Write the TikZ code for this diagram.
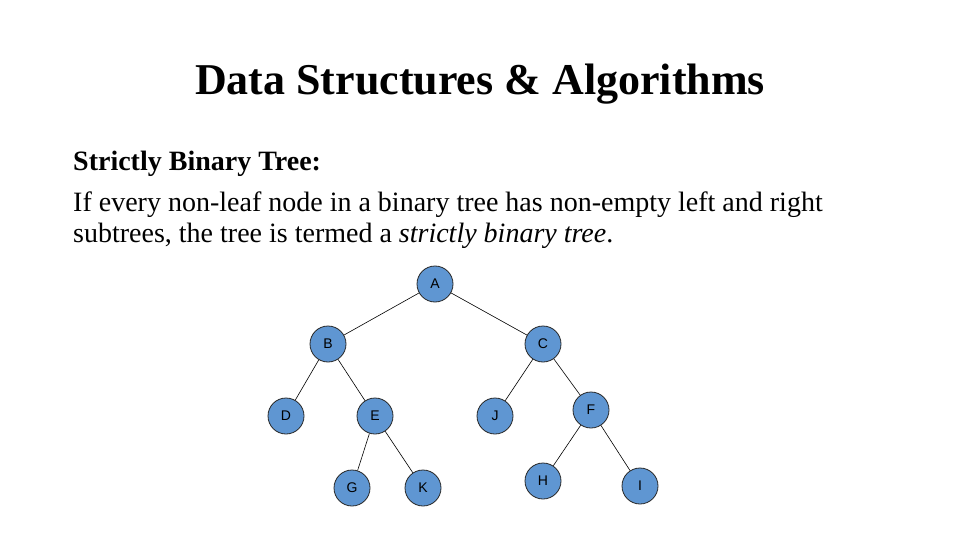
\documentclass[tikz,border=0pt]{standalone}
\usepackage{fontspec}
\setmainfont{Liberation Serif}
\newfontfamily\arialfont{Liberation Sans}
\definecolor{nodeblue}{RGB}{95,150,210}
\definecolor{nodeedge}{RGB}{40,40,40}
\begin{document}
\begin{tikzpicture}[x=1pt,y=-1pt,
  tnode/.style={circle,draw=nodeedge,line width=0.8pt,fill=nodeblue,minimum size=36pt,inner sep=0pt,font=\arialfont\fontsize{14}{16}\selectfont},
  edge/.style={draw=black,line width=0.6pt},
  bodytext/.style={anchor=base west,inner sep=0pt,font=\fontsize{28}{31}\selectfont}]
\useasboundingbox[fill=white] (0,0) rectangle (960,540);
\node[anchor=base,inner sep=0pt,font=\fontsize{44}{48}\selectfont\bfseries] (title) at (480,95) {Data Structures \& Algorithms};
\node[bodytext,font=\fontsize{28}{31}\selectfont\bfseries] (head) at (73,171) {Strictly Binary Tree:};
\node[bodytext] (l1) at (73,211) {If every non-leaf node in a binary tree has non-empty left and right};
\node[bodytext] (l2) at (73,242) {subtrees, the tree is termed a \textit{strictly binary tree}.};
\node[tnode] (A) at (435,284) {A};
\node[tnode] (B) at (328,344) {B};
\node[tnode] (C) at (543,344) {C};
\node[tnode] (D) at (286,416) {D};
\node[tnode] (E) at (375,416) {E};
\node[tnode] (J) at (495,416) {J};
\node[tnode] (F) at (591,410) {F};
\node[tnode] (G) at (352,488) {G};
\node[tnode] (K) at (423,488) {K};
\node[tnode] (H) at (543,481) {H};
\node[tnode] (I) at (640,486) {I};
\draw[edge] (A) -- (B);
\draw[edge] (A) -- (C);
\draw[edge] (B) -- (D);
\draw[edge] (B) -- (E);
\draw[edge] (C) -- (J);
\draw[edge] (C) -- (F);
\draw[edge] (E) -- (G);
\draw[edge] (E) -- (K);
\draw[edge] (F) -- (H);
\draw[edge] (F) -- (I);
\end{tikzpicture}
\end{document}
